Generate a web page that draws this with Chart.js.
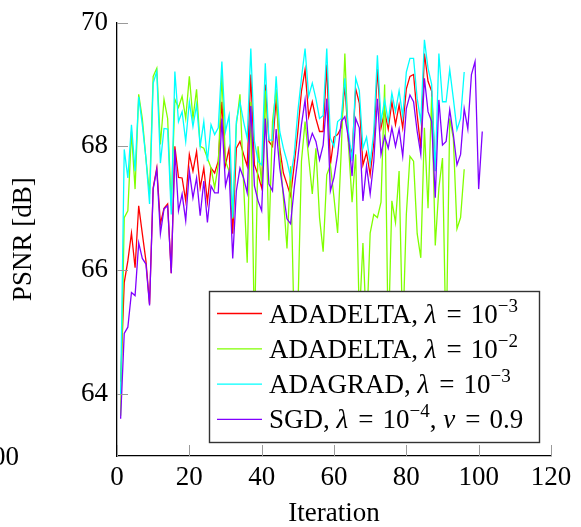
<!DOCTYPE html>
<html>
<head>
<meta charset="utf-8">
<script src="https://cdn.jsdelivr.net/npm/chart.js@4.4.0/dist/chart.umd.min.js"></script>
<style>
  html, body { margin: 0; padding: 0; background: #fff; }
  #wrap { width: 581px; height: 527px; }
</style>
</head>
<body>
<div id="wrap"><canvas id="c" width="581" height="527"></canvas></div>
<script>
const xTicks = [0, 20, 40, 60, 80, 100, 120];
const yTicks = [64, 66, 68, 70];

// PSNR per iteration, iterations start at 1
const adadelta3 = [
  64.2, 65.8, 66.15, 66.6, 66.04, 67.04, 66.59, 66.15, 65.45, 67.33,
  67.65, 66.75, 67.0, 67.07, 65.95, 68.0, 67.5, 67.49, 67.12, 67.87,
  67.6, 67.92, 67.33, 67.65, 67.1, 67.65, 67.57, 67.76, 68.72, 67.7,
  67.97, 66.59, 67.97, 68.08, 67.87, 67.68, 69.16, 67.7, 67.54, 67.33,
  69.0, 68.08, 68.0, 68.77, 67.97, 67.57, 67.39, 67.2, 67.7, 68.24,
  68.89, 69.24, 68.48, 68.72, 68.45, 68.24, 68.24, 69.32, 67.7, 68.15,
  68.19, 68.3, 69.0, 68.08, 67.87, 68.93, 68.7, 67.7, 67.9, 67.54,
  68.05, 69.25, 68.3, 68.56, 68.28, 68.72, 68.35, 68.67, 68.3, 68.93,
  69.13, 69.16, 68.5, 67.97, 69.5, 69.05, 68.89, 67.6
];
const adadelta2 = [
  63.65, 66.85, 66.96, 68.24, 67.31, 68.84, 68.45, 67.8, 67.23, 69.13,
  69.26, 68.03, 68.76, 68.45, 67.04, 68.76, 68.63, 68.81, 68.45, 69.13,
  68.45, 68.92, 68.0, 67.97, 67.81, 67.65, 67.33, 67.7, 69.16, 67.76,
  67.6, 66.83, 68.35, 68.84, 67.4, 66.12, 68.72, 64.9, 68.0, 67.39,
  68.9, 66.48, 68.4, 68.92, 67.87, 67.17, 66.35, 67.68, 65.0, 65.3,
  67.76, 68.4, 67.81, 67.23, 67.97, 66.85, 66.3, 67.54, 67.7, 67.17,
  66.6, 67.92, 69.5, 68.02, 67.1, 67.87, 65.2, 66.44, 65.0, 66.6,
  66.9, 66.85, 67.1, 69.0, 64.8, 67.12, 66.77, 67.6, 64.9, 66.9,
  67.84, 67.76, 66.59, 66.2, 68.3, 67.0, 68.8, 66.4, 67.33, 67.81,
  64.7, 68.45, 68.13, 66.67, 66.85, 67.63
];
const adagrad3 = [
  64.0, 67.95, 67.49, 68.35, 67.6, 68.8, 68.35, 67.81, 67.07, 69.02,
  69.21, 67.73, 68.29, 68.28, 66.9, 69.21, 68.4, 68.56, 68.08, 68.72,
  68.32, 68.67, 68.0, 68.4, 67.76, 68.35, 68.19, 68.3, 69.37, 68.24,
  68.5, 66.85, 68.4, 68.72, 68.4, 68.13, 69.58, 68.08, 67.76, 67.7,
  69.34, 68.1, 68.1, 69.13, 68.24, 67.97, 67.76, 67.49, 67.87, 68.56,
  69.1, 69.58, 68.81, 69.02, 68.77, 68.45, 68.5, 69.58, 68.13, 68.0,
  68.4, 68.45, 69.1, 68.24, 67.76, 69.1, 68.9, 67.97, 68.15, 67.72,
  68.24, 69.47, 68.4, 68.75, 68.4, 68.86, 68.56, 68.9, 68.48, 69.2,
  69.42, 69.42, 68.77, 68.4, 69.72, 69.26, 69.0, 67.6, 69.5, 68.72,
  68.72, 69.24, 68.77, 68.27, 68.45, 69.2
];
const sgd4 = [
  63.6, 64.98, 65.08, 65.64, 65.59, 66.44, 66.19, 66.1, 65.43, 67.31,
  67.63, 66.59, 66.99, 67.04, 65.95, 67.95, 66.96, 67.23, 66.8, 67.6,
  67.17, 67.49, 66.88, 67.44, 66.77, 67.36, 67.25, 67.25, 68.45, 67.36,
  67.6, 66.19, 67.28, 67.65, 67.49, 67.25, 68.65, 67.36, 67.12, 66.96,
  68.45, 67.39, 67.28, 68.28, 67.65, 67.25, 66.83, 66.75, 67.33, 67.81,
  68.35, 68.75, 68.02, 68.21, 68.08, 67.78, 68.02, 68.77, 67.28, 67.5,
  67.87, 68.4, 68.48, 68.13, 67.52, 68.45, 68.3, 67.12, 67.68, 67.23,
  67.76, 68.77, 67.87, 68.16, 67.97, 68.3, 68.0, 68.28, 67.84, 68.61,
  68.83, 68.72, 68.24, 67.87, 69.1, 68.56, 68.4, 67.17, 68.75, 68.02,
  68.08, 68.59, 68.19, 67.7, 67.87, 68.61, 68.28, 69.16, 69.37, 67.31,
  68.24
];

// legend pieces: n = upright, i = math italic, s = superscript
const EQ = '\u200A = \u200A';
const seriesNames = [
  [['ADADELTA, ', 'n'], ['λ', 'i'], [EQ + '10', 'n'], ['−3', 's']],
  [['ADADELTA, ', 'n'], ['λ', 'i'], [EQ + '10', 'n'], ['−2', 's']],
  [['ADAGRAD, ', 'n'], ['λ', 'i'], [EQ + '10', 'n'], ['−3', 's']],
  [['SGD, ', 'n'], ['λ', 'i'], [EQ + '10', 'n'], ['−4', 's'], [', ', 'n'], ['ν', 'i'], [EQ + '0.9', 'n']]
];
const seriesColors = ['#ff0000', '#80ff00', '#00ffff', '#8000ff'];
const allSeries = [adadelta3, adadelta2, adagrad3, sgd4];

const toPoints = arr => arr.map((v, i) => ({ x: i + 1, y: v }));

const FONT = '"Liberation Serif", "Times New Roman", serif';

const axisDecor = {
  id: 'axisDecor',
  afterDatasetsDraw(chart) {
    const { ctx, chartArea: a, scales: { x, y } } = chart;
    ctx.save();
    ctx.strokeStyle = '#9a9a9a';
    ctx.lineWidth = 1;
    yTicks.forEach(v => {
      const py = Math.round(y.getPixelForValue(v)) + 0.5;
      ctx.beginPath(); ctx.moveTo(a.left, py); ctx.lineTo(a.left + 11, py); ctx.stroke();
    });
    xTicks.forEach(v => {
      const px = Math.round(x.getPixelForValue(v)) + 0.5;
      ctx.beginPath(); ctx.moveTo(px, a.bottom); ctx.lineTo(px, a.bottom - 11); ctx.stroke();
    });
    // clipped label from a neighbouring plot
    ctx.fillStyle = '#000';
    ctx.font = '27px ' + FONT;
    ctx.textAlign = 'right';
    ctx.textBaseline = 'alphabetic';
    ctx.fillText('100', 19, 465);
    ctx.restore();
  }
};

const texLegend = {
  id: 'texLegend',
  afterDraw(chart) {
    const ctx = chart.ctx;
    const bx = 209, by = 291, bw = 330, bh = 151;
    ctx.save();
    ctx.fillStyle = '#fff';
    ctx.fillRect(bx, by, bw, bh);
    ctx.strokeStyle = '#333';
    ctx.lineWidth = 1.4;
    ctx.strokeRect(bx + 0.5, by + 0.5, bw, bh);
    seriesNames.forEach((parts, r) => {
      const ry = 313.5 + r * 35.3;
      ctx.strokeStyle = seriesColors[r];
      ctx.lineWidth = 1.3;
      ctx.beginPath(); ctx.moveTo(217, ry); ctx.lineTo(262, ry); ctx.stroke();
      let tx = 269;
      const base = ry + 9;
      ctx.fillStyle = '#000';
      ctx.textAlign = 'left';
      ctx.textBaseline = 'alphabetic';
      parts.forEach(([t, kind]) => {
        let yy = base;
        if (kind === 'i') ctx.font = 'italic 27px ' + FONT;
        else if (kind === 's') { ctx.font = '19px ' + FONT; yy = base - 11; }
        else ctx.font = '27px ' + FONT;
        ctx.fillText(t, tx, yy);
        tx += ctx.measureText(t).width + (kind === 'i' ? 1 : 0);
      });
    });
    ctx.restore();
  }
};

new Chart(document.getElementById('c'), {
  type: 'line',
  data: {
    datasets: allSeries.map((s, k) => ({
      data: toPoints(s),
      borderColor: seriesColors[k],
      borderWidth: 1.3,
      pointRadius: 0,
      tension: 0,
      fill: false,
      order: 4 - k
    }))
  },
  options: {
    responsive: false,
    animation: false,
    layout: { padding: { left: 0, right: 30, top: 21, bottom: 0 } },
    plugins: { legend: { display: false }, tooltip: { enabled: false } },
    scales: {
      x: {
        type: 'linear',
        min: 0,
        max: 120,
        afterBuildTicks: s => { s.ticks = xTicks.map(v => ({ value: v })); },
        afterFit: s => { s.height = 71; },
        grid: { display: false, drawTicks: false },
        border: { display: true, color: '#000', width: 1.3 },
        ticks: { color: '#000', padding: 8, maxRotation: 0, font: { family: FONT, size: 27, lineHeight: 1 } },
        title: { display: true, text: 'Iteration', color: '#000', padding: { top: 0, bottom: 0 }, font: { family: FONT, size: 27, lineHeight: 1 } }
      },
      y: {
        type: 'linear',
        min: 63,
        max: 70,
        afterBuildTicks: s => { s.ticks = yTicks.map(v => ({ value: v })); },
        afterFit: s => { s.width = 117; },
        grid: { display: false, drawTicks: false },
        border: { display: true, color: '#000', width: 1.3 },
        ticks: { color: '#000', padding: 9, font: { family: FONT, size: 27, lineHeight: 1 } },
        title: { display: true, text: 'PSNR [dB]', color: '#000', padding: { top: 10, bottom: 0 }, font: { family: FONT, size: 27, lineHeight: 1 } }
      }
    }
  },
  plugins: [axisDecor, texLegend]
});
</script>
</body>
</html>
